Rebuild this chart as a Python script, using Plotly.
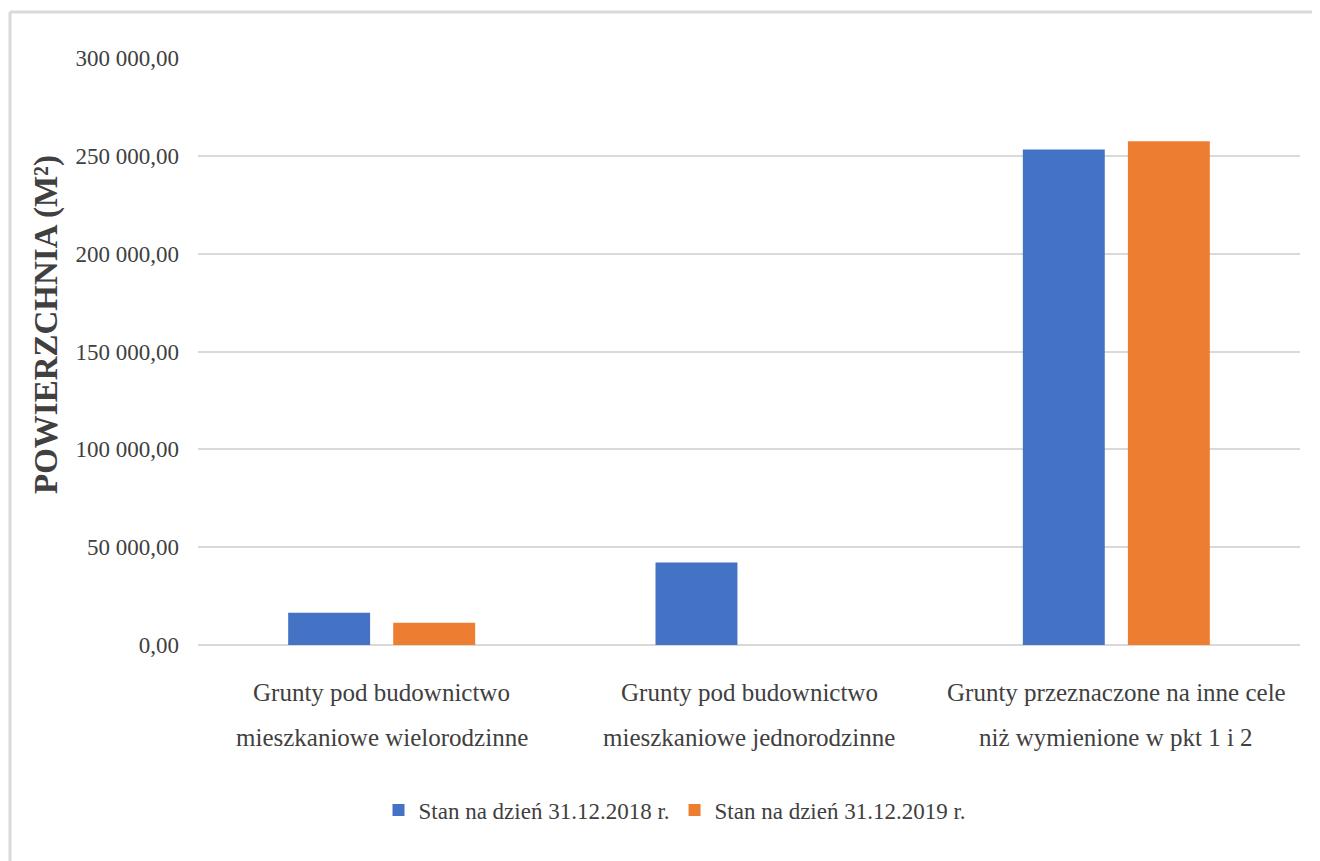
import plotly.graph_objects as go

categories = [
    "Grunty pod budownictwo mieszkaniowe wielorodzinne",
    "Grunty pod budownictwo mieszkaniowe jednorodzinne",
    "Grunty przeznaczone na inne cele niż wymienione w pkt 1 i 2",
]
category_lines = [
    ["Grunty pod budownictwo", "mieszkaniowe wielorodzinne"],
    ["Grunty pod budownictwo", "mieszkaniowe jednorodzinne"],
    ["Grunty przeznaczone na inne cele", "niż wymienione w pkt 1 i 2"],
]
series_names = ["Stan na dzień 31.12.2018 r.", "Stan na dzień 31.12.2019 r."]
values_2018 = [16500, 42200, 253200]
values_2019 = [11400, 0, 257500]
tick_vals = [0, 50000, 100000, 150000, 200000, 250000, 300000]
tick_text = ["0,00", "50 000,00", "100 000,00", "150 000,00", "200 000,00", "250 000,00", "300 000,00"]
y_title = "POWIERZCHNIA (M²)"

FONT = "Liberation Serif"
TXT = "#404040"

fig = go.Figure()
fig.add_trace(go.Bar(x=categories, y=values_2018, name=series_names[0],
                     marker=dict(color="#4472C4", line=dict(width=0))))
fig.add_trace(go.Bar(x=categories, y=values_2019, name=series_names[1],
                     marker=dict(color="#ED7D31", line=dict(width=0))))

OFF = 8  # browser default body margin
W, H = 1320, 861
L, R, T, B = 198 - OFF, 20 + OFF, 58 - OFF, 216 + OFF
pw = W - L - R
ph = H - T - B

def px_x(x):
    return (x - OFF - L) / pw

def px_y(y):
    return (H - B - (y - OFF)) / ph

annotations = []
for cat, lines in zip(categories, category_lines):
    for i, line in enumerate(lines):
        annotations.append(dict(x=cat, xref="x", y=px_y(692 + 45 * i), yref="paper",
                                text=line, showarrow=False, yanchor="middle", xanchor="center",
                                font=dict(family=FONT, size=25, color=TXT)))
annotations.append(dict(x=px_x(46), xref="paper", y=px_y(325), yref="paper",
                        text="<b>" + y_title + "</b>", textangle=-90, showarrow=False,
                        xanchor="center", yanchor="middle",
                        font=dict(family=FONT, size=33, color=TXT)))

shapes = [
    dict(type="line", xref="paper", yref="paper", x0=px_x(10), x1=px_x(1330),
         y0=px_y(12), y1=px_y(12), line=dict(color="#d9d9d9", width=3)),
    dict(type="line", xref="paper", yref="paper", x0=px_x(10), x1=px_x(10),
         y0=px_y(12), y1=px_y(870), line=dict(color="#d9d9d9", width=3)),
]

fig.update_layout(
    width=W, height=H,
    margin=dict(l=L, r=R, t=T, b=B),
    paper_bgcolor="white", plot_bgcolor="white",
    barmode="group", bargap=0.428, bargroupgap=0.22,
    font=dict(family=FONT, color=TXT),
    xaxis=dict(showticklabels=False, showgrid=False, zeroline=False, showline=False,
               ticks=""),
    yaxis=dict(range=[0, 300000], tickvals=tick_vals, ticktext=tick_text,
               showgrid=True, gridcolor="#d9d9d9", gridwidth=1.5,
               zeroline=True, zerolinecolor="#d9d9d9", zerolinewidth=1.5,
               showline=False, ticks="", ticklabelstandoff=18,
               tickfont=dict(family=FONT, size=23, color=TXT)),
    legend=dict(orientation="h", x=px_x(675), xanchor="center", y=px_y(810), yanchor="middle",
                font=dict(family=FONT, size=23, color=TXT), itemwidth=30,
                traceorder="normal"),
    annotations=annotations,
    shapes=shapes,
)

fig.write_html("out.html")
